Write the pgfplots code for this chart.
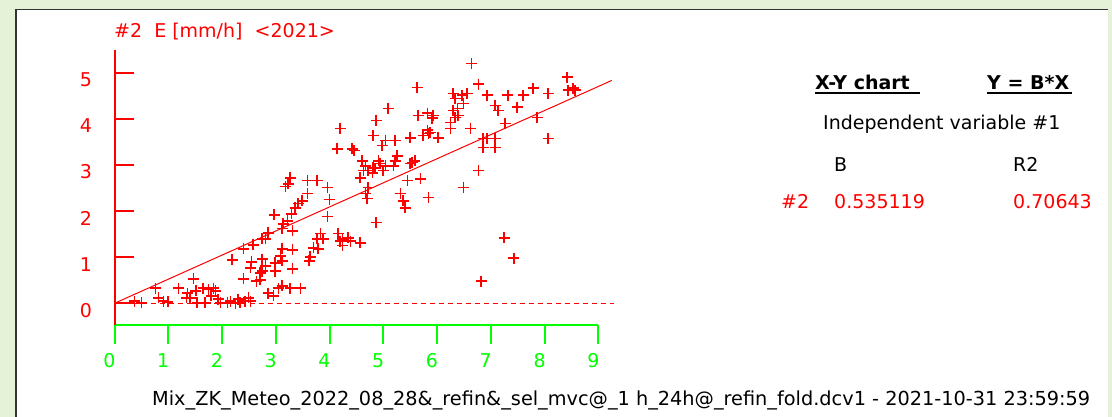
\documentclass[border=0pt]{standalone}
\usepackage{fontspec}
\setmainfont{DejaVu Sans}
\usepackage{pgfplots}
\pgfplotsset{compat=1.18}
\definecolor{bggreen}{RGB}{229,242,215}
\definecolor{pred}{RGB}{255,0,0}
\definecolor{pgreen}{RGB}{0,255,0}
\pgfplotstableread{
x y
0.37 0.05
0.50 0.01
0.76 0.33
0.82 0.12
0.91 0.05
0.99 0.03
1.19 0.33
1.36 0.22
1.34 0.12
1.41 0.12
1.47 0.53
1.51 0.27
1.54 0.01
1.65 0.33
1.75 0.31
1.84 0.33
1.69 0.01
1.80 0.16
1.88 0.27
1.97 0.01
1.93 0.09
2.10 0.01
2.16 0.05
2.25 0.00
2.34 0.01
2.43 0.05
2.53 0.05
2.30 0.09
2.40 0.53
2.49 0.12
2.19 0.94
2.55 0.90
2.53 0.77
2.75 0.96
2.81 0.81
2.75 0.70
2.64 0.48
2.71 0.66
2.86 1.53
2.81 1.40
2.75 1.40
2.58 1.27
2.40 1.18
2.99 0.70
3.12 1.18
3.09 1.03
2.99 0.88
3.12 0.92
3.31 1.16
3.31 0.75
3.12 0.38
3.27 0.33
3.46 0.33
2.86 0.22
2.96 0.16
3.05 0.33
2.71 0.51
2.97 1.92
3.22 1.79
3.14 1.72
3.12 1.62
3.31 1.57
3.27 2.72
3.23 2.59
3.18 2.53
3.59 2.66
3.77 2.66
3.96 2.51
4.00 2.25
3.59 2.38
3.49 2.22
3.42 2.16
3.36 2.07
3.29 1.94
3.96 1.88
3.83 1.51
3.77 1.40
3.88 1.40
3.70 1.20
3.79 1.18
3.64 1.01
3.62 0.92
4.16 1.51
4.20 1.35
4.39 1.35
4.57 1.31
4.24 1.40
4.35 1.42
4.24 1.25
4.87 1.75
4.20 3.79
4.14 3.35
4.42 3.35
4.46 3.31
4.61 3.09
4.67 2.98
4.72 2.88
4.63 2.88
4.57 2.72
4.72 2.51
4.67 2.38
4.70 2.27
4.87 3.96
5.09 4.22
4.81 3.64
5.04 3.53
4.98 3.42
5.22 3.53
4.91 3.09
4.94 3.03
4.81 2.94
4.80 2.83
4.85 2.92
5.26 3.20
5.22 3.09
5.04 2.98
5.19 2.98
5.00 2.88
5.50 3.59
5.54 3.05
5.59 3.09
5.50 3.03
5.45 2.66
5.69 2.70
5.32 2.38
5.37 2.22
5.41 2.07
5.84 2.29
5.65 4.07
5.63 4.68
5.82 4.12
5.91 4.01
5.93 4.07
5.87 3.70
5.84 3.68
5.82 3.75
6.02 3.59
5.74 3.64
6.25 3.79
6.25 3.92
6.34 4.03
6.30 4.55
6.34 4.44
6.47 4.51
6.56 4.55
6.49 4.33
6.38 4.22
6.30 4.18
6.39 4.07
6.62 3.79
6.64 5.20
6.77 4.75
6.93 4.51
7.08 4.29
7.14 4.18
7.32 4.51
7.49 4.25
7.60 4.51
7.79 4.66
8.07 4.55
8.42 4.90
8.44 4.62
8.53 4.66
8.57 4.62
7.86 4.03
7.27 3.90
6.86 3.57
6.93 3.57
7.08 3.57
6.86 3.38
7.08 3.38
8.07 3.57
6.77 2.88
6.49 2.51
7.25 1.42
7.43 0.98
6.82 0.48
}\pts
\begin{document}
\begin{tikzpicture}[x=1pt,y=1pt,font=\fontsize{19}{22}\selectfont]
\useasboundingbox (0,0) rectangle (1112,417);
\fill[bggreen] (0,0) rectangle (1112,417);
\fill[white] (15,0) rectangle (1108,408);
\draw[line width=1.5pt, black!80] (15.75,0) -- (15.75,407.25) -- (1108,407.25);
\begin{axis}[
  at={(114.5pt,92pt)}, anchor=south west,
  scale only axis, width=483.8pt, height=275pt,
  xmin=0, xmax=9, ymin=-0.47, ymax=5.49,
  clip=false,
  axis lines*=left,
  x axis line style={draw=pgreen,line width=2pt},
  y axis line style={draw=pred,line width=2pt},
  xtick={0,1,...,9}, ytick={0,1,...,5},
  tick align=outside, major tick length=19pt,
  x tick style={draw=pgreen,line width=2pt},
  y tick style={draw=pred,line width=2pt,xshift=19pt},
  xticklabel style={text=pgreen, xshift=-5pt, yshift=-6pt},
  yticklabel style={text=pred, yshift=-7pt},
  /pgf/number format/assume math mode=true,
]
\addplot[draw=pred, line width=1pt] coordinates {(0,0) (9.25,4.83)};
\addplot[draw=pred, line width=1.2pt, dash pattern=on 5pt off 4pt] coordinates {(0,0) (9.3,0)};
\addplot[only marks, mark=+, mark size=5.5pt, mark options={draw=pred, line width=1.7pt, solid}] table[x=x,y=y] {\pts};
\end{axis}
\node[anchor=base west, inner sep=0, text=pred] at (114,379) {\#2\ \ E [mm/h]\ \ <2021>};
\node[anchor=base west, inner sep=0, font=\fontsize{19}{22}\selectfont\bfseries] at (815,327) {X-Y chart};
\node[anchor=base west, inner sep=0, font=\fontsize{19}{22}\selectfont\bfseries] at (987,327) {Y = B*X};
\draw[line width=1.5pt] (815,324) -- (920,324);
\draw[line width=1.5pt] (987,324) -- (1072,324);
\node[anchor=base west, inner sep=0] at (823,287) {Independent variable \#1};
\node[anchor=base west, inner sep=0] at (834,245.3) {B};
\node[anchor=base west, inner sep=0] at (1013,245.3) {R2};
\node[anchor=base west, inner sep=0, text=pred] at (781,208) {\#2};
\node[anchor=base west, inner sep=0, text=pred] at (834,208) {0.535119};
\node[anchor=base west, inner sep=0, text=pred] at (1013,208) {0.70643};
\node[anchor=base west, inner sep=0, font=\fontsize{19.3}{22}\selectfont] at (152,11) {Mix\_ZK\_Meteo\_2022\_08\_28\&\_refin\&\_sel\_mvc@\_1 h\_24h@\_refin\_fold.dcv1 - 2021-10-31 23:59:59};
\end{tikzpicture}
\end{document}
